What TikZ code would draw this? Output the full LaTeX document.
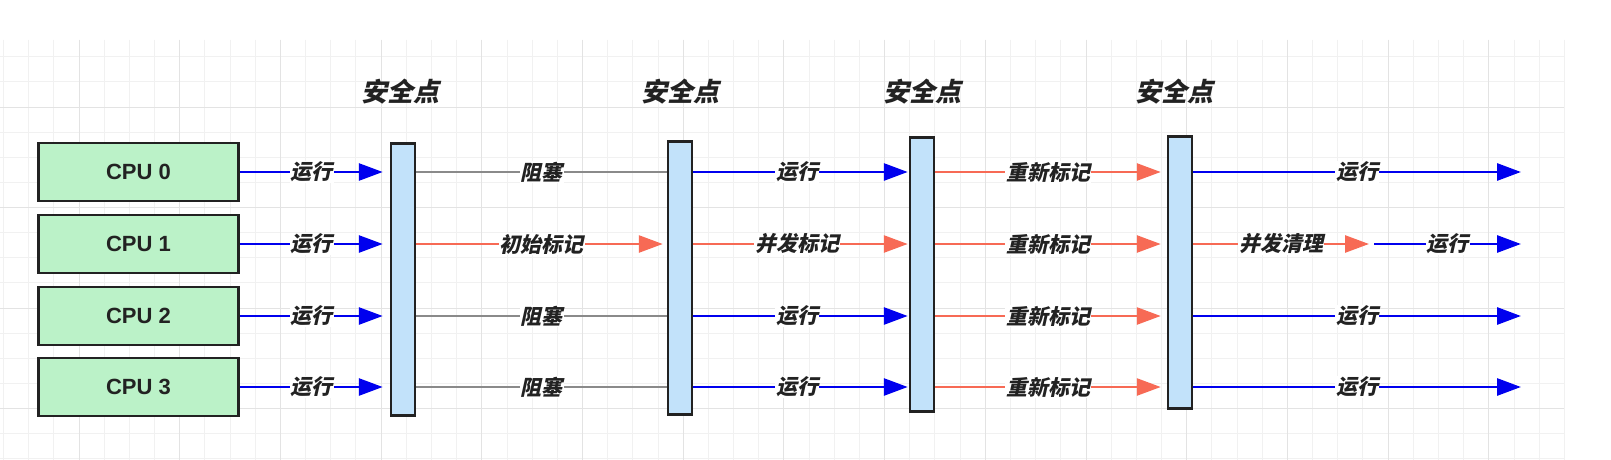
\documentclass[tikz,border=0pt]{standalone}
\usepackage{fontspec}
\newfontfamily\cjk[FakeSlant=0.22]{Noto Sans CJK SC}
\newfontfamily\arialf{Liberation Sans}
\usetikzlibrary{arrows.meta}
\definecolor{cpugreen}{HTML}{BBF2C8}
\definecolor{barblue}{HTML}{C2E2FA}
\definecolor{edgeblue}{HTML}{0000EE}
\definecolor{edgered}{HTML}{F76A55}
\definecolor{edgegray}{HTML}{8A8A8A}
\definecolor{gridminor}{HTML}{F1F1F1}
\definecolor{gridmajor}{HTML}{E3E3E3}
\definecolor{ink}{HTML}{222222}
\begin{document}
\begin{tikzpicture}[x=1pt,y=-1pt,
 cpubox/.style={draw=ink, line width=2.5pt, fill=cpugreen, minimum width=200pt, minimum height=58pt, inner sep=0pt, font=\arialf\bfseries\fontsize{22}{22}\selectfont, text=ink},
 sbar/.style={draw=ink, line width=2.5pt, fill=barblue, minimum width=24pt, inner sep=0pt},
 sptitle/.style={font=\cjk\bfseries\fontsize{26}{26}\selectfont, text=ink},
 lbl/.style={font=\cjk\bfseries\fontsize{21}{21}\selectfont, text=ink, fill=white, inner sep=1pt},
 tip/.style={-{Triangle[length=24pt,width=17pt]}},
 runarrow/.style={draw=edgeblue, line width=2.8pt, tip},
 markarrow/.style={draw=edgered, line width=2.6pt, tip},
 blockline/.style={draw=edgegray, line width=2.2pt},
 gminor/.style={draw=gridminor, line width=1pt},
 gmajor/.style={draw=gridmajor, line width=1pt},
]
\useasboundingbox[fill=white] (0,0) rectangle (1611,460);
% grid
\foreach \i in {0,...,62} \draw[gminor] ({3.5+25.175*\i},40) -- ({3.5+25.175*\i},460);
\foreach \j in {0,...,16} \draw[gminor] (0,{56.75+25.125*\j}) -- (1564,{56.75+25.125*\j});
\foreach \i in {0,...,14} \draw[gmajor] ({79+100.7*\i},40) -- ({79+100.7*\i},460);
\foreach \j in {0,...,3} \draw[gmajor] (0,{107+100.5*\j}) -- (1564,{107+100.5*\j});

% CPU boxes
\node[cpubox] (cpu0) at (138.5,172) {CPU 0};
\node[cpubox] (cpu1) at (138.5,244) {CPU 1};
\node[cpubox] (cpu2) at (138.5,316) {CPU 2};
\node[cpubox] (cpu3) at (138.5,387) {CPU 3};

% safe point bars
\node[sbar, minimum height=272pt] (bar1) at (403,279.5) {};
\node[sbar, minimum height=273pt] (bar2) at (680,278) {};
\node[sbar, minimum height=274pt] (bar3) at (922,274.5) {};
\node[sbar, minimum height=272pt] (bar4) at (1180,272.5) {};

\node[sptitle] (t1) at (400,92) {安全点};
\node[sptitle] (t2) at (680,92) {安全点};
\node[sptitle] (t3) at (922,92) {安全点};
\node[sptitle] (t4) at (1174,92) {安全点};

% end points
\coordinate (e0) at (1521,172);
\coordinate (m1) at (1369,244);
\coordinate (n1) at (1374,244);
\coordinate (e1) at (1521,244);
\coordinate (e2) at (1521,316);
\coordinate (e3) at (1521,387);

% CPU -> bar1
\foreach \k in {0,1,2,3}
  \draw[runarrow, shorten >=7pt] (cpu\k.east) -- (bar1.west |- cpu\k.east) node[lbl, midway, xshift=-3pt] {运行};

% bar1 -> bar2
\draw[blockline] (bar1.east |- cpu0.east) -- (bar2.west |- cpu0.east) node[lbl, midway] {阻塞};
\draw[markarrow, shorten >=4pt] (bar1.east |- cpu1.east) -- (bar2.west |- cpu1.east) node[lbl, midway] {初始标记};
\draw[blockline] (bar1.east |- cpu2.east) -- (bar2.west |- cpu2.east) node[lbl, midway] {阻塞};
\draw[blockline] (bar1.east |- cpu3.east) -- (bar2.west |- cpu3.east) node[lbl, midway] {阻塞};

% bar2 -> bar3
\draw[runarrow, shorten >=1pt] (bar2.east |- cpu0.east) -- (bar3.west |- cpu0.east) node[lbl, midway, xshift=-4pt] {运行};
\draw[markarrow, shorten >=1pt] (bar2.east |- cpu1.east) -- (bar3.west |- cpu1.east) node[lbl, midway, xshift=-4pt] {并发标记};
\draw[runarrow, shorten >=1pt] (bar2.east |- cpu2.east) -- (bar3.west |- cpu2.east) node[lbl, midway, xshift=-4pt] {运行};
\draw[runarrow, shorten >=1pt] (bar2.east |- cpu3.east) -- (bar3.west |- cpu3.east) node[lbl, midway, xshift=-4pt] {运行};

% bar3 -> bar4
\foreach \k in {0,1,2,3}
  \draw[markarrow, shorten >=6pt] (bar3.east |- cpu\k.east) -- (bar4.west |- cpu\k.east) node[lbl, midway, xshift=-3pt] {重新标记};

% bar4 -> end
\draw[runarrow] (bar4.east |- cpu0.east) -- (e0) node[lbl, midway] {运行};
\draw[markarrow] (bar4.east |- cpu1.east) -- (m1) node[lbl, midway] {并发清理};
\draw[runarrow] (n1) -- (e1) node[lbl, midway] {运行};
\draw[runarrow] (bar4.east |- cpu2.east) -- (e2) node[lbl, midway] {运行};
\draw[runarrow] (bar4.east |- cpu3.east) -- (e3) node[lbl, midway] {运行};
\end{tikzpicture}
\end{document}
